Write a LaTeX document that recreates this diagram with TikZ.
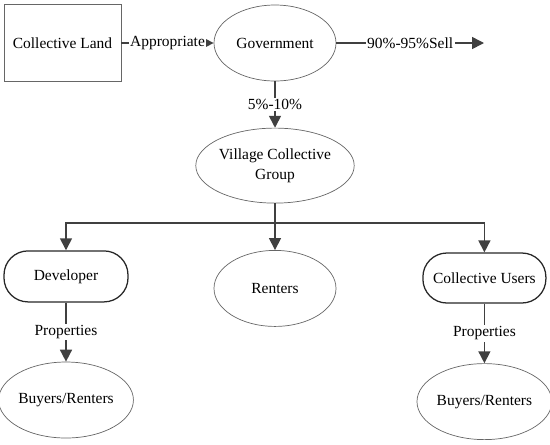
\documentclass[tikz,border=0pt]{standalone}
\usepackage{fontspec}
\setmainfont{Liberation Serif}
\usetikzlibrary{arrows.meta, positioning, shapes.geometric}

\begin{document}
\begin{tikzpicture}[
  every node/.style={font=\fontsize{11}{14}\selectfont, align=center},
  box/.style={draw=black!60, line width=0.5pt, minimum width=2.925cm, minimum height=1.925cm},
  oval/.style={ellipse, draw=black!60, line width=0.5pt, inner sep=0pt, minimum width=3.05cm, minimum height=1.9cm},
  pill/.style={draw=black!85, line width=0.9pt, rounded corners=0.6cm, minimum width=3.1cm, minimum height=1.275cm},
  link/.style={draw=black!75, line width=1.1pt},
  flow/.style={link, -{Triangle[length=3mm,width=3mm]}},
  lbl/.style={fill=white, inner sep=1pt}
]
\useasboundingbox (0,0) rectangle (13.75,-11.1);

% top row
\node [box]  (land) at (1.5625,-1.075) {Collective Land};
\node [oval] (gov)  at (6.875,-1.075) {Government};
\coordinate (sell) at (12.1,-1.075);

% village level
\node [oval, minimum height=1.875cm] (village) at (6.875,-4.14) {Village Collective\\Group};
\coordinate (split) at (6.875,-5.575);

% users
\node [pill] (dev)   at (1.65,-6.91)  {Developer};
\node [oval] (rent)  at (6.875,-7.21) {Renters};
\node [pill, minimum width=3.075cm, minimum height=1.25cm] (users) at (12.11,-6.95) {Collective Users};

% final buyers
\node [oval] (buyL) at (1.65,-10.0)  {Buyers/Renters};
\node [oval] (buyR) at (12.11,-10.04) {Buyers/Renters};

\draw [flow] (land) -- node [lbl] {Appropriate} (gov);
\draw [flow] (gov) -- node [lbl] {90\%-95\%Sell} (sell);
\draw [flow] (gov.south) -- node [lbl] {5\%-10\%} (village.north);
\draw [link] (village.south) -- (split);
\draw [flow] (split) -- (rent.north);
\draw [flow] (split) -| (dev.north);
\draw [flow] (split) -| (users.north);
\draw [flow] (dev) -- node [lbl] {Properties} (buyL);
\draw [flow] (users) -- node [lbl] {Properties} (buyR);
\end{tikzpicture}
\end{document}
